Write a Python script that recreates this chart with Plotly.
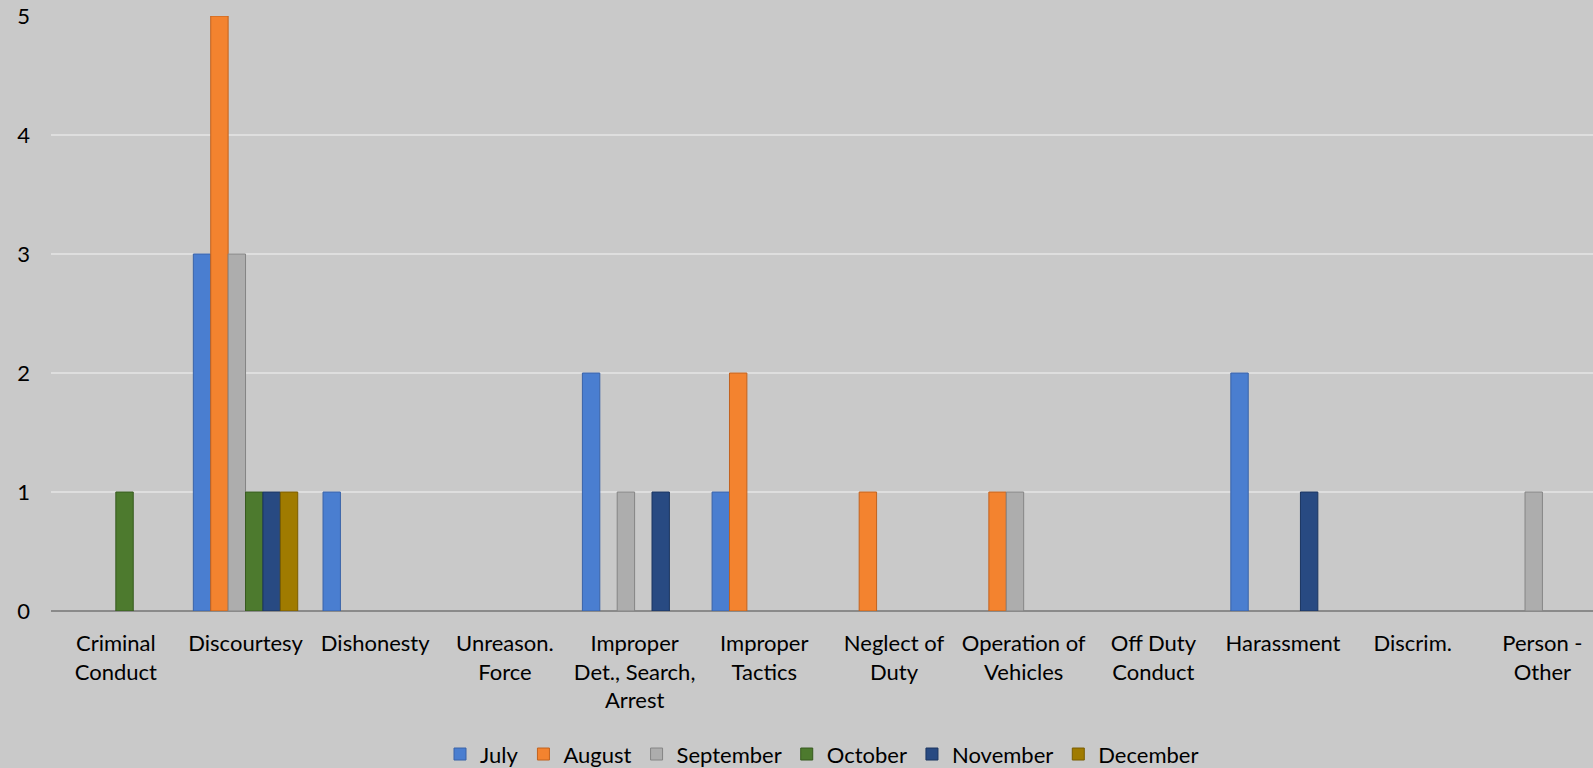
import plotly.graph_objects as go

categories = ["Criminal<br>Conduct", "Discourtesy", "Dishonesty", "Unreason.<br>Force",
              "Improper<br>Det., Search,<br>Arrest", "Improper<br>Tactics", "Neglect of<br>Duty",
              "Operation of<br>Vehicles", "Off Duty<br>Conduct", "Harassment", "Discrim.",
              "Person -<br>Other"]

july      = [0, 3, 1, 0, 2, 1, 0, 0, 0, 2, 0, 0]
august    = [0, 5, 0, 0, 0, 2, 1, 1, 0, 0, 0, 0]
september = [0, 3, 0, 0, 1, 0, 0, 1, 0, 0, 0, 1]
october   = [1, 1, 0, 0, 0, 0, 0, 0, 0, 0, 0, 0]
november  = [0, 1, 0, 0, 1, 0, 0, 0, 0, 1, 0, 0]
december  = [0, 1, 0, 0, 0, 0, 0, 0, 0, 0, 0, 0]

series = [
    ("July", july, "#4A7ED0", "#3A63A8"),
    ("August", august, "#F3832F", "#C2621E"),
    ("September", september, "#ADADAD", "#858585"),
    ("October", october, "#4D7A2E", "#375A1F"),
    ("November", november, "#284A82", "#1B3560"),
    ("December", december, "#A07B00", "#7A5D00"),
]

fig = go.Figure()
for name, vals, col, edge in series:
    fig.add_trace(go.Bar(
        name=name, x=list(range(len(categories))),
        y=[v if v else None for v in vals],
        marker=dict(color=col, line=dict(color=edge, width=1)),
    ))

fig.update_layout(
    width=1593, height=768,
    paper_bgcolor="#C9C9C9", plot_bgcolor="#C9C9C9",
    margin=dict(l=51, r=0, t=16, b=157, autoexpand=False),
    barmode="group", bargap=0.195, bargroupgap=0.0,
    font=dict(family="Lato", size=22, color="#000000"),
    showlegend=True,
    legend=dict(orientation="h", x=0.5, xanchor="center", y=-0.276, yanchor="bottom",
                font=dict(size=22), itemwidth=30, tracegroupgap=0),
    xaxis=dict(
        tickmode="array", tickvals=list(range(len(categories))), ticktext=categories,
        range=[-0.5, 11.39], showgrid=False, zeroline=False, ticks="",
        showline=False, tickfont=dict(size=22), ticklabelstandoff=17, automargin=False,
    ),
    yaxis=dict(
        range=[0, 5], dtick=1, showgrid=True, gridcolor="#DEDEDE", gridwidth=2,
        zeroline=True, zerolinecolor="#8A8A8A", zerolinewidth=2, automargin=False,
        ticks="", tickfont=dict(size=22), showline=False, ticklabelstandoff=20,
    ),
)

fig.write_html("out.html", config={"displayModeBar": False},
               post_script="document.body.style.margin='0';document.body.style.overflow='hidden';")
